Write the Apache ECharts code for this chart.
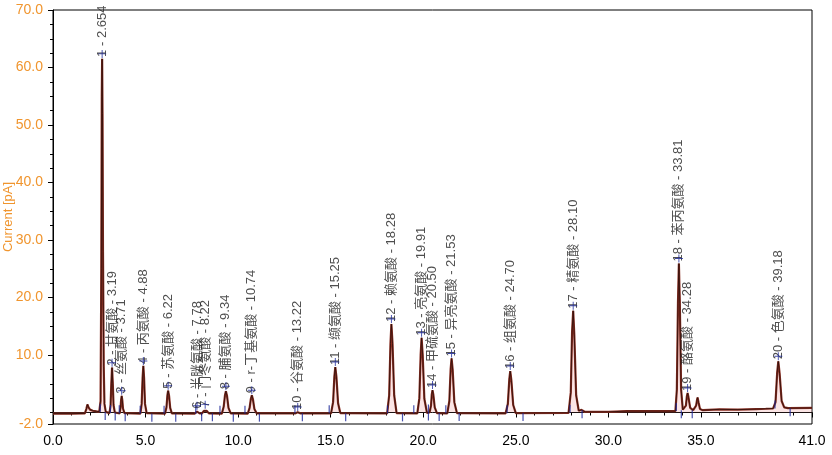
<!DOCTYPE html>
<html>
<head>
<meta charset="utf-8">
<script src="https://cdn.jsdelivr.net/npm/echarts@6/dist/echarts.min.js"></script>
<style>
html,body{margin:0;padding:0;background:#fff;}
#chart{width:832px;height:455px;}
</style>
</head>
<body>
<div id="chart"></div>
<script>
// ---- axis ranges and tick labels ----
const xRange = [0, 41];
const yRange = [-2, 70];
const xLabelValues = [0, 5, 10, 15, 20, 25, 30, 35, 41];
const yLabelValues = [-2, 10, 20, 30, 40, 50, 60, 70];
const yAxisTitle = 'Current [pA]';

// ---- peak table ----
const peakNo = [1, 2, 3, 4, 5, 6, 7, 8, 9, 10, 11, 12, 13, 14, 15, 16, 17, 18, 19, 20];
const peakName = ['', '甘氨酸', '丝氨酸', '丙氨酸', '苏氨酸', '半胱氨酸', '门冬氨酸', '脯氨酸', 'r-丁基氨酸', '谷氨酸',
  '缬氨酸', '赖氨酸', '亮氨酸', '甲硫氨酸', '异亮氨酸', '组氨酸', '精氨酸', '苯丙氨酸', '酪氨酸', '色氨酸'];
const peakRT = ['2.654', '3.19', '3.71', '4.88', '6.22', '7.78', '8.22', '9.34', '10.74', '13.22',
  '15.25', '18.28', '19.91', '20.50', '21.53', '24.70', '28.10', '33.81', '34.28', '39.18'];
const peakApex = [61.5, 7.8, 2.9, 8.1, 3.8, 0.3, 0.5, 3.7, 3.0, 0.1,
  7.9, 15.4, 13.0, 3.9, 9.4, 7.2, 17.7, 25.9, 3.4, 8.9];

// ---- integration marks (start above baseline, end below) ----
const markStart = [[2.55, 0.1], [3.10, -0.1], [3.58, -0.15], [4.71, -0.2], [6.00, -0.2], [7.71, -0.2], [9.02, -0.2],
  [10.37, -0.2], [13.07, -0.15], [14.92, -0.15], [18.07, -0.15], [19.49, -0.15], [20.28, 0.0], [21.22, -0.15],
  [24.53, -0.15], [27.93, -0.05], [33.67, 0.25], [39.00, 0.7]];
const markEnd = [[2.82, 0.1], [3.36, 0.0], [3.90, -0.15], [5.34, -0.2], [6.63, -0.2], [8.03, -0.15], [8.61, -0.15],
  [9.74, -0.2], [11.15, -0.2], [13.47, -0.15], [15.81, -0.15], [18.88, -0.15], [20.28, 0.0], [20.86, -0.1],
  [21.94, -0.1], [25.39, -0.1], [28.58, 0.4], [33.94, 0.4], [34.53, 0.4], [39.82, 0.75]];

// ---- detector trace (time, current) ----
const trace = [
  [0, -0.2], [1.0, -0.2], [1.72, -0.15], [1.80, 0.6], [1.86, 1.4], [1.92, 0.9], [2.0, 0.5], [2.15, 0.3], [2.35, 0.2],
  [2.50, 0.15], [2.57, 2.0], [2.61, 25], [2.635, 55], [2.654, 61.5], [2.675, 52], [2.70, 28], [2.74, 8], [2.78, 1.5], [2.85, 0.1],
  [3.05, -0.1], [3.11, 1.2], [3.15, 5.0], [3.19, 7.8], [3.23, 5.0], [3.27, 1.3], [3.34, 0.0],
  [3.60, -0.15], [3.65, 0.9], [3.68, 2.2], [3.71, 2.9], [3.745, 2.1], [3.78, 0.7], [3.86, -0.1],
  [4.72, -0.2], [4.79, 1.5], [4.84, 6.0], [4.88, 8.1], [4.92, 6.0], [4.97, 1.5], [5.06, -0.1],
  [6.05, -0.2], [6.13, 0.9], [6.18, 3.0], [6.22, 3.8], [6.27, 2.9], [6.33, 0.8], [6.42, -0.15],
  [7.65, -0.2], [7.78, 0.15], [7.92, -0.15],
  [8.05, -0.15], [8.15, 0.3], [8.22, 0.45], [8.30, 0.3], [8.42, -0.15],
  [9.12, -0.2], [9.22, 1.0], [9.29, 3.0], [9.34, 3.7], [9.40, 2.9], [9.48, 0.8], [9.60, -0.15],
  [10.52, -0.2], [10.62, 0.8], [10.69, 2.4], [10.74, 3.0], [10.80, 2.3], [10.88, 0.6], [11.0, -0.15],
  [12.0, -0.15], [13.1, -0.15], [13.22, 0.05], [13.35, -0.15],
  [15.02, -0.15], [15.13, 1.8], [15.20, 6.3], [15.25, 7.9], [15.31, 6.2], [15.40, 1.6], [15.52, -0.1],
  [18.05, -0.15], [18.16, 3.0], [18.23, 12.0], [18.28, 15.4], [18.34, 12.0], [18.43, 3.0], [18.56, -0.1],
  [19.68, -0.15], [19.79, 2.5], [19.86, 10.0], [19.91, 13.0], [19.97, 10.0], [20.06, 2.4], [20.20, -0.05],
  [20.34, 0.0], [20.42, 1.2], [20.46, 3.1], [20.50, 3.9], [20.55, 3.0], [20.62, 0.9], [20.74, -0.1],
  [21.30, -0.15], [21.41, 2.0], [21.48, 7.5], [21.53, 9.4], [21.59, 7.4], [21.68, 1.8], [21.82, -0.1],
  [24.45, -0.15], [24.57, 1.5], [24.65, 5.8], [24.70, 7.2], [24.76, 5.6], [24.86, 1.3], [25.0, -0.1],
  [27.85, -0.05], [27.97, 3.5], [28.04, 14.0], [28.10, 17.7], [28.16, 13.5], [28.26, 3.0], [28.40, 0.3], [28.55, 0.45], [28.75, 0.1],
  [30.0, 0.1], [31.0, 0.25], [33.0, 0.25],
  [33.62, 0.25], [33.70, 4.0], [33.76, 19.0], [33.81, 25.9], [33.86, 19.0], [33.93, 4.0], [34.02, 0.5],
  [34.10, 0.3], [34.19, 1.2], [34.24, 2.8], [34.28, 3.4], [34.33, 2.6], [34.42, 0.8], [34.58, 0.4],
  [34.66, 0.35], [34.74, 1.2], [34.79, 2.2], [34.82, 2.6], [34.87, 1.8], [34.95, 0.6], [35.1, 0.4],
  [36.0, 0.55], [37.0, 0.5], [38.0, 0.6], [38.5, 0.65],
  [38.9, 0.7], [39.03, 1.8], [39.12, 7.0], [39.18, 8.9], [39.25, 6.8], [39.36, 2.0], [39.5, 0.9], [39.7, 0.75],
  [41.0, 0.8]
];

// ---- build option ----
const FONT = "'Liberation Sans', Arial, 'Noto Sans CJK SC', sans-serif";
const ORANGE = '#f0952e';
const BLUE = '#1a2599';

const xMinor = [];
for (let v = xRange[0]; v <= xRange[1]; v += 1) if (xLabelValues.indexOf(v) < 0) xMinor.push(v);
const yMinor = [];
for (let v = 0; v <= yRange[1]; v += 2.5) if (yLabelValues.indexOf(v) < 0) yMinor.push(v);

const labelData = peakNo.map((n, i) => ({
  value: [parseFloat(peakRT[i]), peakApex[i]],
  name: n + (peakName[i] ? ' - ' + peakName[i] : '') + ' - ' + peakRT[i]
}));
const crossData = peakNo.map((n, i) => [parseFloat(peakRT[i]), peakApex[i]]);

const chart = echarts.init(document.getElementById('chart'), null, {renderer: 'canvas'});
chart.setOption({
  animation: false,
  backgroundColor: '#fff',
  grid: {left: 53, right: 20, top: 10, bottom: 31, containLabel: false, outerBoundsMode: 'none',
    show: true, borderColor: '#000', borderWidth: 1, backgroundColor: 'transparent'},
  xAxis: [{
    type: 'value', min: xRange[0], max: xRange[1], position: 'bottom', offset: 4,
    axisLine: {show: true, lineStyle: {color: '#000', width: 1}},
    axisTick: {show: true, length: 5, customValues: xLabelValues, lineStyle: {color: '#000'}},
    axisLabel: {show: true, customValues: xLabelValues, formatter: v => v.toFixed(1), color: '#000', fontSize: 14, fontFamily: FONT, margin: 6},
    splitLine: {show: false}
  }, {
    type: 'value', min: xRange[0], max: xRange[1], position: 'bottom', offset: 4,
    axisLine: {show: false},
    axisTick: {show: true, length: 3, customValues: xMinor, lineStyle: {color: '#000'}},
    axisLabel: {show: false},
    splitLine: {show: false}
  }],
  yAxis: [{
    type: 'value', min: yRange[0], max: yRange[1], position: 'left', offset: 4,
    name: yAxisTitle, nameLocation: 'middle', nameGap: 34, nameMoveOverlap: false,
    nameTextStyle: {color: ORANGE, fontSize: 13, fontFamily: FONT},
    axisLine: {show: true, lineStyle: {color: '#000', width: 1}},
    axisTick: {show: true, length: 5, customValues: yLabelValues, lineStyle: {color: '#000'}},
    axisLabel: {show: true, customValues: yLabelValues, formatter: v => v.toFixed(1), color: ORANGE, fontSize: 14, fontFamily: FONT, margin: 6},
    splitLine: {show: false}
  }, {
    type: 'value', min: yRange[0], max: yRange[1], position: 'left', offset: 4,
    axisLine: {show: false},
    axisTick: {show: true, length: 3, customValues: yMinor, lineStyle: {color: '#000'}},
    axisLabel: {show: false},
    splitLine: {show: false}
  }],
  series: [{
    type: 'line', data: trace, showSymbol: false, symbol: 'none',
    lineStyle: {color: '#8b3024', width: 2.2},
    areaStyle: {color: 'rgba(240,150,150,0.35)', origin: 0},
    z: 2
  }, {
    type: 'line', data: trace, showSymbol: false, symbol: 'none',
    lineStyle: {color: '#2a0c08', width: 0.8},
    z: 3
  }, {
    type: 'scatter', data: markStart, symbol: 'rect', symbolSize: [1.2, 8], symbolOffset: [0, -4],
    itemStyle: {color: BLUE}, z: 4
  }, {
    type: 'scatter', data: markEnd, symbol: 'rect', symbolSize: [1.2, 8], symbolOffset: [0, 4],
    itemStyle: {color: BLUE}, z: 4
  }, {
    type: 'scatter', data: crossData,
    symbol: 'path://M4.4,0 H5.6 V4.4 H10 V5.6 H5.6 V10 H4.4 V5.6 H0 V4.4 H4.4 Z',
    symbolSize: 8, symbolOffset: [0, -5],
    itemStyle: {color: BLUE}, z: 6
  }, {
    type: 'scatter', data: labelData, symbolSize: 2,
    itemStyle: {color: 'rgba(0,0,0,0)'},
    labelLayout: {hideOverlap: false},
    label: {
      show: true, formatter: p => p.name, position: 'top', distance: 1,
      rotate: 90, align: 'left', verticalAlign: 'middle',
      color: '#222', fontSize: 13, fontFamily: FONT
    },
    z: 5
  }]
});
</script>
</body>
</html>
